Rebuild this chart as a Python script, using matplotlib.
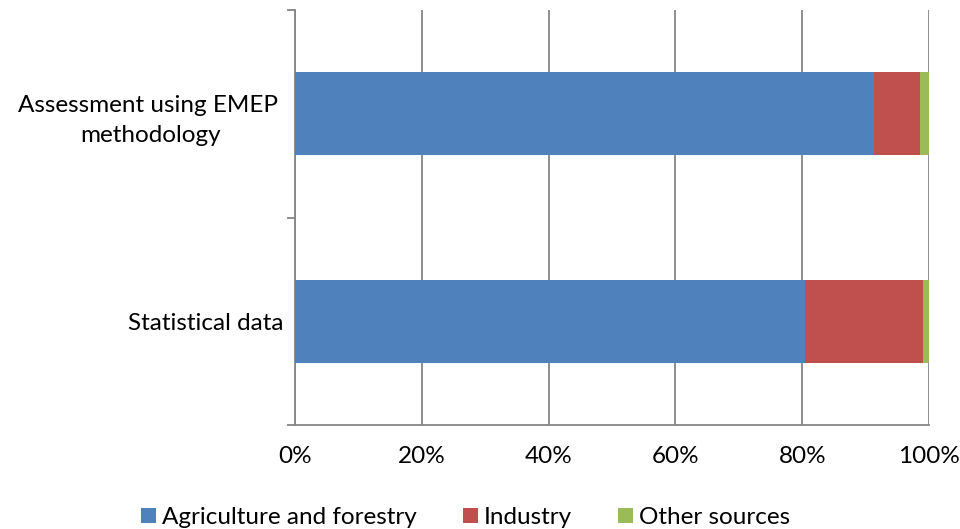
import numpy as np
import matplotlib.pyplot as plt
from matplotlib.ticker import FixedLocator, PercentFormatter

categories = ["Statistical data", "Assessment using EMEP \nmethodology"]
agriculture = [80.5, 91.3]
industry = [18.5, 7.3]
other = [1.0, 1.4]
series = ["Agriculture and forestry", "Industry", "Other sources"]
colors = ["#4F81BD", "#C0504D", "#9BBB59"]

plt.rcParams['font.family'] = ['Lato', 'DejaVu Sans']

fig = plt.figure(figsize=(9.6, 5.29), dpi=100)
ax = fig.add_axes([295/960, 1 - 425/529, 634/960, 415/529])

y = np.arange(len(categories))
left = np.zeros(len(categories))
for vals, name, c in zip([agriculture, industry, other], series, colors):
    ax.barh(y, vals, left=left, height=0.4, color=c, label=name, zorder=3)
    left += np.array(vals)

ax.set_xlim(0, 100)
ax.set_ylim(-0.5, 1.5)
ax.set_xticks(np.arange(0, 101, 20))
ax.xaxis.set_major_formatter(PercentFormatter(decimals=0))
ax.grid(axis='x', color='#868686', linewidth=1.3, zorder=0)
ax.set_yticks(y)
ax.set_yticklabels(categories, ha='right', multialignment='center', linespacing=1.55)
ax.yaxis.set_minor_locator(FixedLocator([-0.5, 0.5, 1.5]))
ax.tick_params(axis='y', which='major', length=0, pad=8, labelsize=17.5)
ax.tick_params(axis='y', which='minor', length=6, width=1.3, color='#868686')
ax.tick_params(axis='x', length=0, labelsize=17.5, pad=15)

for s in ['top', 'right']:
    ax.spines[s].set_visible(False)
for s in ['left', 'bottom']:
    ax.spines[s].set_color('#868686')
    ax.spines[s].set_linewidth(1.3)

fig.legend(loc='lower center', ncol=3, frameon=False, fontsize=17.5,
           handlelength=0.6, handleheight=0.6, handletextpad=0.25,
           columnspacing=1.9, bbox_to_anchor=(0.485, -0.04))

plt.savefig('out.png', dpi=100)
